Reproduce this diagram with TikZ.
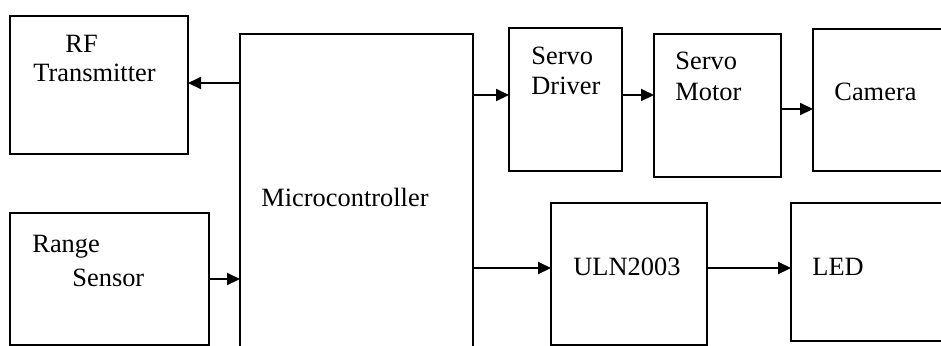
\documentclass[tikz,border=0pt]{standalone}
\usepackage{fontspec}
\setmainfont{Liberation Serif}
\usetikzlibrary{arrows.meta}
\tikzset{
  box/.style={draw, line width=1pt, rectangle, inner sep=0pt, outer sep=0pt},
  lbl/.style={anchor=base west, inner sep=0pt, font=\fontsize{13.2}{15}\selectfont},
  arr/.style={line width=1pt, -{Triangle[length=6.5pt,width=6pt]}}
}
\begin{document}
\begin{tikzpicture}[x=0.5pt, y=-0.5pt]
  \useasboundingbox (0,0) rectangle (941,345);
  \clip (0,0) rectangle (941,345);

  % blocks (centre, width x height in pt)
  \node[box, minimum width=89pt,   minimum height=69pt]   (rf)  at (99,85)      {};
  \node[box, minimum width=99.5pt, minimum height=66pt]   (rs)  at (109.5,279)  {};
  \node[box, minimum width=116.5pt,minimum height=163pt]  (mc)  at (356.5,197)  {};
  \node[box, minimum width=56.5pt, minimum height=71.5pt] (sd)  at (565.5,99.5) {};
  \node[box, minimum width=63.5pt, minimum height=71.5pt] (sm)  at (717.5,105.5){};
  \node[box, minimum width=73.5pt, minimum height=71pt]   (cam) at (886.5,100)  {};
  \node[box, minimum width=78pt,   minimum height=71pt]   (uln) at (629,274)    {};
  \node[box, minimum width=84.5pt, minimum height=69pt]   (led) at (875.5,272)  {};

  % block texts
  \node[lbl] (t1) at (65,52)   {RF};
  \node[lbl] (t2) at (33,81)   {Transmitter};
  \node[lbl] (t3) at (32,252)  {Range};
  \node[lbl] (t4) at (72,286)  {Sensor};
  \node[lbl] (t5) at (261,206) {Microcontroller};
  \node[lbl] (t6) at (531,64)  {Servo};
  \node[lbl] (t7) at (531,94)  {Driver};
  \node[lbl] (t8) at (675,69)  {Servo};
  \node[lbl] (t9) at (675,100) {Motor};
  \node[lbl] (t10) at (834,100) {Camera};
  \node[lbl] (t11) at (573,275) {ULN2003};
  \node[lbl] (t12) at (812,275) {LED};

  % connections
  \draw[arr] (mc.west |- 0,83)  -- (rf.east |- 0,83);
  \draw[arr] (rs.east |- 0,279) -- (mc.west |- 0,279);
  \draw[arr] (mc.east |- 0,95)  -- (sd.west |- 0,95);
  \draw[arr] (sd.east |- 0,95)  -- (sm.west |- 0,95);
  \draw[arr] (sm.east |- 0,109) -- (cam.west |- 0,109);
  \draw[arr] (mc.east |- 0,268) -- (uln.west |- 0,268);
  \draw[arr] (uln.east |- 0,268) -- (led.west |- 0,268);
\end{tikzpicture}
\end{document}
